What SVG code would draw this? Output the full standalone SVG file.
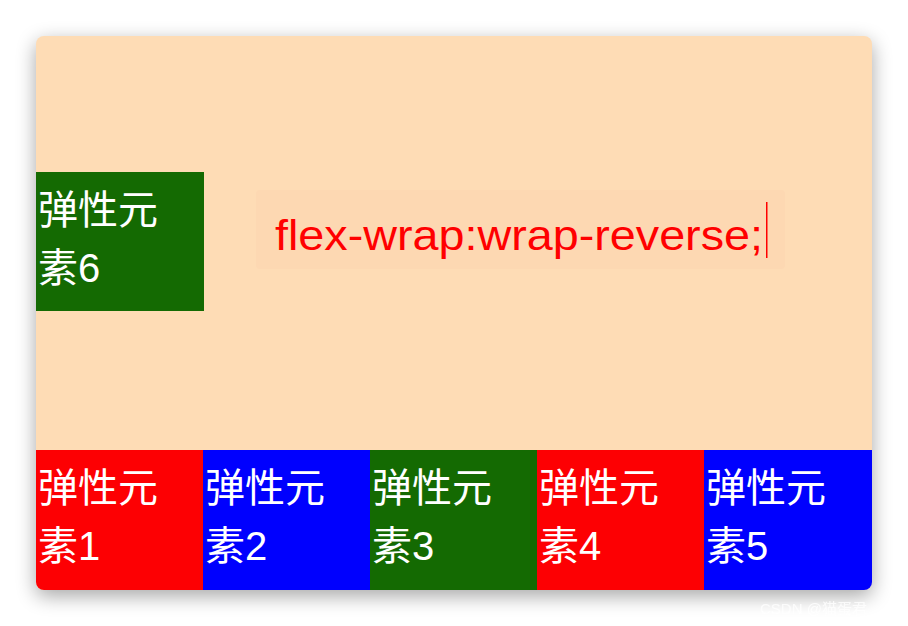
<svg xmlns="http://www.w3.org/2000/svg" width="908" height="626" viewBox="0 0 908 626">
<style>
.t{font-family:"Liberation Sans","Noto Sans CJK SC",sans-serif;font-size:40px;fill:#fff}
</style>
<defs>
<filter id="sh" x="-10%" y="-10%" width="120%" height="125%"><feGaussianBlur stdDeviation="10"/></filter>
<clipPath id="card"><rect x="36" y="36" width="836" height="554" rx="8"/></clipPath>
</defs>
<rect width="908" height="626" fill="#fff"/>
<rect x="36" y="42" width="836" height="554" rx="8" fill="#000" opacity="0.35" filter="url(#sh)"/>
<g clip-path="url(#card)">
<rect x="36" y="36" width="836" height="554" fill="#fedcb5"/>
<g id="label">
<rect x="256" y="190" width="529" height="79" rx="4" fill="#fdd8b2"/>
<text x="275" y="250" font-family="Liberation Sans,sans-serif" font-size="42" fill="#f00" textLength="488" lengthAdjust="spacingAndGlyphs">flex-wrap:wrap-reverse;</text>
<rect x="766" y="202" width="1.5" height="56" fill="#f00"/>
</g>
<g id="e6"><rect x="36" y="172" width="168" height="139" fill="#146a02"/><text class="t" x="38" y="224">弹性元</text><text class="t" x="38" y="282">素6</text></g>
<g id="e1"><rect x="36" y="450" width="168" height="140" fill="#fd0003"/><text class="t" x="38" y="502">弹性元</text><text class="t" x="38" y="560">素1</text></g>
<g id="e2"><rect x="203" y="450" width="168" height="140" fill="#0000fe"/><text class="t" x="205" y="502">弹性元</text><text class="t" x="205" y="560">素2</text></g>
<g id="e3"><rect x="370" y="450" width="168" height="140" fill="#146a02"/><text class="t" x="372" y="502">弹性元</text><text class="t" x="372" y="560">素3</text></g>
<g id="e4"><rect x="537" y="450" width="168" height="140" fill="#fd0003"/><text class="t" x="539" y="502">弹性元</text><text class="t" x="539" y="560">素4</text></g>
<g id="e5"><rect x="704" y="450" width="168" height="140" fill="#0000fe"/><text class="t" x="706" y="502">弹性元</text><text class="t" x="706" y="560">素5</text></g>
</g>
<text x="760" y="614" font-family="Liberation Sans,'Noto Sans CJK SC',sans-serif" font-size="15" fill="#fff" opacity="0.8">CSDN @猫蛋君</text>
</svg>
